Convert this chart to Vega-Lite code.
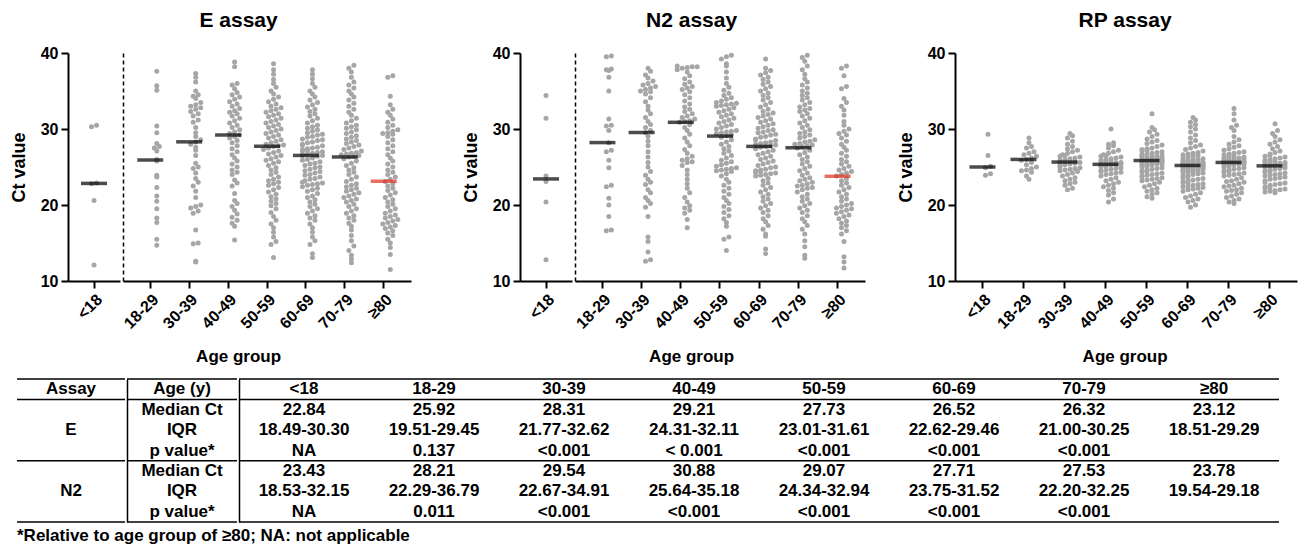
{
"$schema":"https://vega.github.io/schema/vega-lite/v6.json",
"background":"white",
"padding":{"left":10,"top":10,"right":5,"bottom":0},
"datasets":{
"E":[
{"g":"<18","v":30.5},{"g":"<18","v":30.3},{"g":"<18","v":22.9},{"g":"<18","v":22.8},{"g":"<18","v":20.6},{"g":"<18","v":12.1},
{"g":"18-29","v":37.6},{"g":"18-29","v":35.7},{"g":"18-29","v":35.1},{"g":"18-29","v":30.4},{"g":"18-29","v":29.5},{"g":"18-29","v":28.1},{"g":"18-29","v":27.7},{"g":"18-29","v":27.5},{"g":"18-29","v":27.1},{"g":"18-29","v":26.0},{"g":"18-29","v":25.8},{"g":"18-29","v":23.9},{"g":"18-29","v":23.7},{"g":"18-29","v":22.3},{"g":"18-29","v":21.2},{"g":"18-29","v":20.5},{"g":"18-29","v":19.5},{"g":"18-29","v":18.3},{"g":"18-29","v":17.7},{"g":"18-29","v":15.5},{"g":"18-29","v":14.7},
{"g":"30-39","v":37.3},{"g":"30-39","v":36.8},{"g":"30-39","v":36.2},{"g":"30-39","v":35.0},{"g":"30-39","v":34.5},{"g":"30-39","v":34.3},{"g":"30-39","v":34.0},{"g":"30-39","v":33.5},{"g":"30-39","v":33.2},{"g":"30-39","v":33.0},{"g":"30-39","v":32.8},{"g":"30-39","v":32.6},{"g":"30-39","v":32.3},{"g":"30-39","v":32.0},{"g":"30-39","v":31.7},{"g":"30-39","v":31.2},{"g":"30-39","v":30.9},{"g":"30-39","v":30.2},{"g":"30-39","v":29.5},{"g":"30-39","v":29.0},{"g":"30-39","v":28.6},{"g":"30-39","v":28.3},{"g":"30-39","v":28.0},{"g":"30-39","v":27.6},{"g":"30-39","v":27.2},{"g":"30-39","v":26.5},{"g":"30-39","v":25.5},{"g":"30-39","v":25.0},{"g":"30-39","v":24.8},{"g":"30-39","v":24.2},{"g":"30-39","v":23.5},{"g":"30-39","v":23.0},{"g":"30-39","v":22.5},{"g":"30-39","v":21.8},{"g":"30-39","v":21.0},{"g":"30-39","v":20.0},{"g":"30-39","v":19.8},{"g":"30-39","v":19.6},{"g":"30-39","v":19.2},{"g":"30-39","v":18.9},{"g":"30-39","v":16.7},{"g":"30-39","v":15.0},{"g":"30-39","v":14.9},{"g":"30-39","v":12.6},{"g":"30-39","v":12.5},
{"g":"40-49","v":38.8},{"g":"40-49","v":38.2},{"g":"40-49","v":36.0},{"g":"40-49","v":35.8},{"g":"40-49","v":35.3},{"g":"40-49","v":34.8},{"g":"40-49","v":34.5},{"g":"40-49","v":34.2},{"g":"40-49","v":33.9},{"g":"40-49","v":33.6},{"g":"40-49","v":33.3},{"g":"40-49","v":33.0},{"g":"40-49","v":32.7},{"g":"40-49","v":32.4},{"g":"40-49","v":32.2},{"g":"40-49","v":32.0},{"g":"40-49","v":31.7},{"g":"40-49","v":31.4},{"g":"40-49","v":31.1},{"g":"40-49","v":30.8},{"g":"40-49","v":30.5},{"g":"40-49","v":30.2},{"g":"40-49","v":29.9},{"g":"40-49","v":29.6},{"g":"40-49","v":29.4},{"g":"40-49","v":29.2},{"g":"40-49","v":29.0},{"g":"40-49","v":28.8},{"g":"40-49","v":28.5},{"g":"40-49","v":28.2},{"g":"40-49","v":27.8},{"g":"40-49","v":27.4},{"g":"40-49","v":27.0},{"g":"40-49","v":26.6},{"g":"40-49","v":26.2},{"g":"40-49","v":25.8},{"g":"40-49","v":25.4},{"g":"40-49","v":25.0},{"g":"40-49","v":24.6},{"g":"40-49","v":24.3},{"g":"40-49","v":24.0},{"g":"40-49","v":23.3},{"g":"40-49","v":22.9},{"g":"40-49","v":22.5},{"g":"40-49","v":21.5},{"g":"40-49","v":20.6},{"g":"40-49","v":20.2},{"g":"40-49","v":19.8},{"g":"40-49","v":19.3},{"g":"40-49","v":18.8},{"g":"40-49","v":18.4},{"g":"40-49","v":18.0},{"g":"40-49","v":17.6},{"g":"40-49","v":17.2},{"g":"40-49","v":15.4},
{"g":"50-59","v":38.6},{"g":"50-59","v":37.8},{"g":"50-59","v":37.2},{"g":"50-59","v":36.5},{"g":"50-59","v":36.0},{"g":"50-59","v":35.5},{"g":"50-59","v":35.0},{"g":"50-59","v":34.6},{"g":"50-59","v":34.2},{"g":"50-59","v":33.9},{"g":"50-59","v":33.6},{"g":"50-59","v":33.3},{"g":"50-59","v":33.0},{"g":"50-59","v":32.8},{"g":"50-59","v":32.6},{"g":"50-59","v":32.4},{"g":"50-59","v":32.2},{"g":"50-59","v":32.0},{"g":"50-59","v":31.8},{"g":"50-59","v":31.6},{"g":"50-59","v":31.4},{"g":"50-59","v":31.2},{"g":"50-59","v":31.0},{"g":"50-59","v":30.8},{"g":"50-59","v":30.6},{"g":"50-59","v":30.4},{"g":"50-59","v":30.2},{"g":"50-59","v":30.0},{"g":"50-59","v":29.8},{"g":"50-59","v":29.6},{"g":"50-59","v":29.4},{"g":"50-59","v":29.2},{"g":"50-59","v":29.0},{"g":"50-59","v":28.8},{"g":"50-59","v":28.6},{"g":"50-59","v":28.4},{"g":"50-59","v":28.2},{"g":"50-59","v":28.0},{"g":"50-59","v":27.9},{"g":"50-59","v":27.8},{"g":"50-59","v":27.7},{"g":"50-59","v":27.5},{"g":"50-59","v":27.3},{"g":"50-59","v":27.1},{"g":"50-59","v":26.9},{"g":"50-59","v":26.7},{"g":"50-59","v":26.5},{"g":"50-59","v":26.3},{"g":"50-59","v":26.1},{"g":"50-59","v":25.9},{"g":"50-59","v":25.7},{"g":"50-59","v":25.5},{"g":"50-59","v":25.2},{"g":"50-59","v":24.9},{"g":"50-59","v":24.6},{"g":"50-59","v":24.3},{"g":"50-59","v":24.0},{"g":"50-59","v":23.7},{"g":"50-59","v":23.4},{"g":"50-59","v":23.2},{"g":"50-59","v":23.0},{"g":"50-59","v":22.8},{"g":"50-59","v":22.6},{"g":"50-59","v":22.3},{"g":"50-59","v":22.0},{"g":"50-59","v":21.7},{"g":"50-59","v":21.4},{"g":"50-59","v":21.1},{"g":"50-59","v":20.8},{"g":"50-59","v":20.5},{"g":"50-59","v":20.2},{"g":"50-59","v":19.9},{"g":"50-59","v":19.5},{"g":"50-59","v":19.0},{"g":"50-59","v":18.5},{"g":"50-59","v":18.0},{"g":"50-59","v":17.5},{"g":"50-59","v":17.0},{"g":"50-59","v":16.4},{"g":"50-59","v":15.8},{"g":"50-59","v":15.2},{"g":"50-59","v":14.8},{"g":"50-59","v":13.1},
{"g":"60-69","v":37.8},{"g":"60-69","v":37.2},{"g":"60-69","v":36.6},{"g":"60-69","v":36.0},{"g":"60-69","v":35.5},{"g":"60-69","v":35.0},{"g":"60-69","v":34.6},{"g":"60-69","v":34.2},{"g":"60-69","v":33.8},{"g":"60-69","v":33.5},{"g":"60-69","v":33.2},{"g":"60-69","v":32.9},{"g":"60-69","v":32.6},{"g":"60-69","v":32.3},{"g":"60-69","v":32.0},{"g":"60-69","v":31.7},{"g":"60-69","v":31.4},{"g":"60-69","v":31.1},{"g":"60-69","v":30.8},{"g":"60-69","v":30.5},{"g":"60-69","v":30.3},{"g":"60-69","v":30.1},{"g":"60-69","v":29.9},{"g":"60-69","v":29.7},{"g":"60-69","v":29.5},
{"g":"60-69","v":29.3},{"g":"60-69","v":29.2},{"g":"60-69","v":29.0},{"g":"60-69","v":28.9},{"g":"60-69","v":28.7},{"g":"60-69","v":28.6},{"g":"60-69","v":28.5},{"g":"60-69","v":28.3},{"g":"60-69","v":28.2},{"g":"60-69","v":28.0},{"g":"60-69","v":27.9},{"g":"60-69","v":27.8},{"g":"60-69","v":27.6},{"g":"60-69","v":27.5},{"g":"60-69","v":27.4},{"g":"60-69","v":27.3},{"g":"60-69","v":27.2},{"g":"60-69","v":27.1},{"g":"60-69","v":27.0},{"g":"60-69","v":26.9},{"g":"60-69","v":26.8},{"g":"60-69","v":26.7},{"g":"60-69","v":26.6},{"g":"60-69","v":26.5},{"g":"60-69","v":26.5},
{"g":"60-69","v":26.4},{"g":"60-69","v":26.2},{"g":"60-69","v":26.0},{"g":"60-69","v":25.9},{"g":"60-69","v":25.7},{"g":"60-69","v":25.5},{"g":"60-69","v":25.4},{"g":"60-69","v":25.2},{"g":"60-69","v":25.0},{"g":"60-69","v":24.9},{"g":"60-69","v":24.7},{"g":"60-69","v":24.5},{"g":"60-69","v":24.4},{"g":"60-69","v":24.2},{"g":"60-69","v":24.0},{"g":"60-69","v":23.9},{"g":"60-69","v":23.7},{"g":"60-69","v":23.5},{"g":"60-69","v":23.4},{"g":"60-69","v":23.2},{"g":"60-69","v":23.0},{"g":"60-69","v":22.9},{"g":"60-69","v":22.8},{"g":"60-69","v":22.7},{"g":"60-69","v":22.6},
{"g":"60-69","v":22.4},{"g":"60-69","v":22.2},{"g":"60-69","v":22.0},{"g":"60-69","v":21.8},{"g":"60-69","v":21.5},{"g":"60-69","v":21.2},{"g":"60-69","v":21.0},{"g":"60-69","v":20.7},{"g":"60-69","v":20.4},{"g":"60-69","v":20.1},{"g":"60-69","v":19.8},{"g":"60-69","v":19.5},{"g":"60-69","v":19.2},{"g":"60-69","v":18.9},{"g":"60-69","v":18.6},{"g":"60-69","v":18.3},{"g":"60-69","v":18.0},{"g":"60-69","v":17.5},{"g":"60-69","v":17.0},{"g":"60-69","v":16.4},{"g":"60-69","v":15.8},{"g":"60-69","v":15.3},{"g":"60-69","v":14.8},{"g":"60-69","v":13.6},{"g":"60-69","v":13.1},
{"g":"70-79","v":38.4},{"g":"70-79","v":38.0},{"g":"70-79","v":37.5},{"g":"70-79","v":36.8},{"g":"70-79","v":36.2},{"g":"70-79","v":35.8},{"g":"70-79","v":35.4},{"g":"70-79","v":35.0},{"g":"70-79","v":34.6},{"g":"70-79","v":34.2},{"g":"70-79","v":33.8},{"g":"70-79","v":33.4},{"g":"70-79","v":33.0},{"g":"70-79","v":32.6},{"g":"70-79","v":32.2},{"g":"70-79","v":31.8},{"g":"70-79","v":31.4},{"g":"70-79","v":31.1},{"g":"70-79","v":30.8},{"g":"70-79","v":30.5},{"g":"70-79","v":30.3},
{"g":"70-79","v":30.1},{"g":"70-79","v":29.9},{"g":"70-79","v":29.6},{"g":"70-79","v":29.4},{"g":"70-79","v":29.1},{"g":"70-79","v":28.9},{"g":"70-79","v":28.7},{"g":"70-79","v":28.5},{"g":"70-79","v":28.3},{"g":"70-79","v":28.1},{"g":"70-79","v":27.9},{"g":"70-79","v":27.7},{"g":"70-79","v":27.5},{"g":"70-79","v":27.3},{"g":"70-79","v":27.1},{"g":"70-79","v":26.9},{"g":"70-79","v":26.8},{"g":"70-79","v":26.7},{"g":"70-79","v":26.6},{"g":"70-79","v":26.5},{"g":"70-79","v":26.4},{"g":"70-79","v":26.3},
{"g":"70-79","v":26.1},{"g":"70-79","v":25.8},{"g":"70-79","v":25.5},{"g":"70-79","v":25.2},{"g":"70-79","v":24.9},{"g":"70-79","v":24.6},{"g":"70-79","v":24.3},{"g":"70-79","v":24.0},{"g":"70-79","v":23.7},{"g":"70-79","v":23.4},{"g":"70-79","v":23.1},{"g":"70-79","v":22.8},{"g":"70-79","v":22.6},{"g":"70-79","v":22.4},{"g":"70-79","v":22.2},{"g":"70-79","v":22.0},{"g":"70-79","v":21.8},{"g":"70-79","v":21.6},{"g":"70-79","v":21.4},{"g":"70-79","v":21.2},{"g":"70-79","v":21.0},
{"g":"70-79","v":20.8},{"g":"70-79","v":20.6},{"g":"70-79","v":20.4},{"g":"70-79","v":20.1},{"g":"70-79","v":19.8},{"g":"70-79","v":19.5},{"g":"70-79","v":19.2},{"g":"70-79","v":18.9},{"g":"70-79","v":18.6},{"g":"70-79","v":18.3},{"g":"70-79","v":18.0},{"g":"70-79","v":17.6},{"g":"70-79","v":17.2},{"g":"70-79","v":16.7},{"g":"70-79","v":16.0},{"g":"70-79","v":15.3},{"g":"70-79","v":14.6},{"g":"70-79","v":14.0},{"g":"70-79","v":13.4},{"g":"70-79","v":12.9},{"g":"70-79","v":12.4},
{"g":"≥80","v":37.0},{"g":"≥80","v":36.8},{"g":"≥80","v":34.3},{"g":"≥80","v":33.2},{"g":"≥80","v":32.6},{"g":"≥80","v":32.2},{"g":"≥80","v":31.8},{"g":"≥80","v":31.3},{"g":"≥80","v":30.9},{"g":"≥80","v":30.5},{"g":"≥80","v":30.2},{"g":"≥80","v":29.9},{"g":"≥80","v":29.7},{"g":"≥80","v":29.5},{"g":"≥80","v":29.4},{"g":"≥80","v":29.3},
{"g":"≥80","v":29.0},{"g":"≥80","v":28.6},{"g":"≥80","v":28.2},{"g":"≥80","v":27.8},{"g":"≥80","v":27.4},{"g":"≥80","v":27.0},{"g":"≥80","v":26.6},{"g":"≥80","v":26.2},{"g":"≥80","v":25.8},{"g":"≥80","v":25.4},{"g":"≥80","v":25.0},{"g":"≥80","v":24.6},{"g":"≥80","v":24.3},{"g":"≥80","v":24.0},{"g":"≥80","v":23.7},{"g":"≥80","v":23.4},{"g":"≥80","v":23.1},
{"g":"≥80","v":22.8},{"g":"≥80","v":22.5},{"g":"≥80","v":22.2},{"g":"≥80","v":21.9},{"g":"≥80","v":21.6},{"g":"≥80","v":21.3},{"g":"≥80","v":21.0},{"g":"≥80","v":20.7},{"g":"≥80","v":20.4},{"g":"≥80","v":20.1},{"g":"≥80","v":19.8},{"g":"≥80","v":19.5},{"g":"≥80","v":19.2},{"g":"≥80","v":18.9},{"g":"≥80","v":18.7},{"g":"≥80","v":18.5},
{"g":"≥80","v":18.3},{"g":"≥80","v":18.1},{"g":"≥80","v":17.9},{"g":"≥80","v":17.7},{"g":"≥80","v":17.5},{"g":"≥80","v":17.3},{"g":"≥80","v":17.1},{"g":"≥80","v":16.9},{"g":"≥80","v":16.6},{"g":"≥80","v":16.3},{"g":"≥80","v":16.0},{"g":"≥80","v":15.5},{"g":"≥80","v":15.0},{"g":"≥80","v":14.4},{"g":"≥80","v":13.5},{"g":"≥80","v":11.5}
],
"N":[
{"g":"<18","v":34.4},{"g":"<18","v":31.4},{"g":"<18","v":23.8},{"g":"<18","v":23.1},{"g":"<18","v":20.4},{"g":"<18","v":12.8},
{"g":"18-29","v":39.6},{"g":"18-29","v":39.5},{"g":"18-29","v":37.9},{"g":"18-29","v":37.8},{"g":"18-29","v":37.7},{"g":"18-29","v":36.8},{"g":"18-29","v":35.0},{"g":"18-29","v":31.3},{"g":"18-29","v":30.5},{"g":"18-29","v":30.4},{"g":"18-29","v":29.8},{"g":"18-29","v":28.2},{"g":"18-29","v":27.2},{"g":"18-29","v":27.0},{"g":"18-29","v":25.9},{"g":"18-29","v":24.9},{"g":"18-29","v":22.6},{"g":"18-29","v":22.4},{"g":"18-29","v":20.9},{"g":"18-29","v":20.0},{"g":"18-29","v":18.5},{"g":"18-29","v":16.7},{"g":"18-29","v":16.6},
{"g":"30-39","v":38.0},{"g":"30-39","v":37.6},{"g":"30-39","v":37.1},{"g":"30-39","v":36.7},{"g":"30-39","v":36.3},{"g":"30-39","v":36.0},{"g":"30-39","v":35.8},{"g":"30-39","v":35.6},{"g":"30-39","v":35.4},{"g":"30-39","v":35.2},{"g":"30-39","v":35.0},{"g":"30-39","v":34.9},
{"g":"30-39","v":34.6},{"g":"30-39","v":34.1},{"g":"30-39","v":33.6},{"g":"30-39","v":33.0},{"g":"30-39","v":32.5},{"g":"30-39","v":32.0},{"g":"30-39","v":31.5},{"g":"30-39","v":31.0},{"g":"30-39","v":30.6},{"g":"30-39","v":30.2},{"g":"30-39","v":29.8},{"g":"30-39","v":29.5},
{"g":"30-39","v":29.0},{"g":"30-39","v":28.4},{"g":"30-39","v":27.8},{"g":"30-39","v":27.0},{"g":"30-39","v":26.3},{"g":"30-39","v":25.6},{"g":"30-39","v":25.0},{"g":"30-39","v":24.4},{"g":"30-39","v":23.9},{"g":"30-39","v":23.4},{"g":"30-39","v":23.0},{"g":"30-39","v":22.7},
{"g":"30-39","v":22.0},{"g":"30-39","v":21.6},{"g":"30-39","v":21.0},{"g":"30-39","v":20.6},{"g":"30-39","v":20.2},{"g":"30-39","v":19.7},{"g":"30-39","v":18.5},{"g":"30-39","v":15.8},{"g":"30-39","v":15.2},{"g":"30-39","v":13.8},{"g":"30-39","v":12.8},{"g":"30-39","v":12.6},
{"g":"40-49","v":38.3},{"g":"40-49","v":38.2},{"g":"40-49","v":38.2},{"g":"40-49","v":38.1},{"g":"40-49","v":38.0},{"g":"40-49","v":37.8},{"g":"40-49","v":37.5},{"g":"40-49","v":37.0},{"g":"40-49","v":36.6},{"g":"40-49","v":36.2},{"g":"40-49","v":35.9},{"g":"40-49","v":35.6},{"g":"40-49","v":35.4},{"g":"40-49","v":35.2},
{"g":"40-49","v":34.9},{"g":"40-49","v":34.5},{"g":"40-49","v":34.1},{"g":"40-49","v":33.7},{"g":"40-49","v":33.3},{"g":"40-49","v":32.9},{"g":"40-49","v":32.6},{"g":"40-49","v":32.3},{"g":"40-49","v":32.0},{"g":"40-49","v":31.7},{"g":"40-49","v":31.5},{"g":"40-49","v":31.3},{"g":"40-49","v":31.1},{"g":"40-49","v":31.0},{"g":"40-49","v":30.9},
{"g":"40-49","v":30.6},{"g":"40-49","v":30.2},{"g":"40-49","v":29.8},{"g":"40-49","v":29.3},{"g":"40-49","v":28.8},{"g":"40-49","v":28.3},{"g":"40-49","v":27.8},{"g":"40-49","v":27.3},{"g":"40-49","v":26.8},{"g":"40-49","v":26.4},{"g":"40-49","v":26.1},{"g":"40-49","v":25.9},{"g":"40-49","v":25.7},{"g":"40-49","v":25.6},
{"g":"40-49","v":25.2},{"g":"40-49","v":24.6},{"g":"40-49","v":24.0},{"g":"40-49","v":23.4},{"g":"40-49","v":22.8},{"g":"40-49","v":22.2},{"g":"40-49","v":21.6},{"g":"40-49","v":21.0},{"g":"40-49","v":20.4},{"g":"40-49","v":19.9},{"g":"40-49","v":19.6},{"g":"40-49","v":19.3},{"g":"40-49","v":18.9},{"g":"40-49","v":18.1},{"g":"40-49","v":17.0},
{"g":"50-59","v":39.7},{"g":"50-59","v":39.5},{"g":"50-59","v":39.2},{"g":"50-59","v":38.6},{"g":"50-59","v":38.3},{"g":"50-59","v":37.5},{"g":"50-59","v":36.7},{"g":"50-59","v":36.0},{"g":"50-59","v":35.5},{"g":"50-59","v":35.1},{"g":"50-59","v":34.7},{"g":"50-59","v":34.4},{"g":"50-59","v":34.1},{"g":"50-59","v":33.9},{"g":"50-59","v":33.7},{"g":"50-59","v":33.5},{"g":"50-59","v":33.4},{"g":"50-59","v":33.3},{"g":"50-59","v":33.2},{"g":"50-59","v":33.1},{"g":"50-59","v":33.0},
{"g":"50-59","v":32.8},{"g":"50-59","v":32.6},{"g":"50-59","v":32.4},{"g":"50-59","v":32.2},{"g":"50-59","v":32.0},{"g":"50-59","v":31.8},{"g":"50-59","v":31.6},{"g":"50-59","v":31.4},{"g":"50-59","v":31.2},{"g":"50-59","v":31.0},{"g":"50-59","v":30.8},{"g":"50-59","v":30.6},{"g":"50-59","v":30.4},{"g":"50-59","v":30.2},{"g":"50-59","v":30.0},{"g":"50-59","v":29.8},{"g":"50-59","v":29.7},{"g":"50-59","v":29.6},{"g":"50-59","v":29.5},{"g":"50-59","v":29.4},{"g":"50-59","v":29.2},{"g":"50-59","v":29.1},
{"g":"50-59","v":28.9},{"g":"50-59","v":28.6},{"g":"50-59","v":28.3},{"g":"50-59","v":28.0},{"g":"50-59","v":27.7},{"g":"50-59","v":27.4},{"g":"50-59","v":27.1},{"g":"50-59","v":26.8},{"g":"50-59","v":26.5},{"g":"50-59","v":26.2},{"g":"50-59","v":25.9},{"g":"50-59","v":25.7},{"g":"50-59","v":25.5},{"g":"50-59","v":25.3},{"g":"50-59","v":25.1},{"g":"50-59","v":24.9},{"g":"50-59","v":24.8},{"g":"50-59","v":24.7},{"g":"50-59","v":24.6},{"g":"50-59","v":24.5},{"g":"50-59","v":24.4},
{"g":"50-59","v":24.1},{"g":"50-59","v":23.8},{"g":"50-59","v":23.4},{"g":"50-59","v":23.0},{"g":"50-59","v":22.6},{"g":"50-59","v":22.2},{"g":"50-59","v":21.8},{"g":"50-59","v":21.4},{"g":"50-59","v":21.0},{"g":"50-59","v":20.6},{"g":"50-59","v":20.2},{"g":"50-59","v":19.8},{"g":"50-59","v":19.4},{"g":"50-59","v":19.0},{"g":"50-59","v":18.6},{"g":"50-59","v":18.2},{"g":"50-59","v":17.7},{"g":"50-59","v":17.2},{"g":"50-59","v":15.8},{"g":"50-59","v":15.5},{"g":"50-59","v":14.0},
{"g":"60-69","v":39.2},{"g":"60-69","v":38.0},{"g":"60-69","v":37.7},{"g":"60-69","v":37.4},{"g":"60-69","v":37.1},{"g":"60-69","v":36.8},{"g":"60-69","v":36.5},{"g":"60-69","v":36.2},{"g":"60-69","v":35.9},{"g":"60-69","v":35.6},{"g":"60-69","v":35.3},{"g":"60-69","v":35.0},{"g":"60-69","v":34.7},{"g":"60-69","v":34.4},{"g":"60-69","v":34.1},{"g":"60-69","v":33.8},{"g":"60-69","v":33.5},{"g":"60-69","v":33.2},{"g":"60-69","v":32.9},{"g":"60-69","v":32.6},{"g":"60-69","v":32.3},{"g":"60-69","v":32.1},{"g":"60-69","v":31.9},{"g":"60-69","v":31.7},{"g":"60-69","v":31.5},
{"g":"60-69","v":31.3},{"g":"60-69","v":31.1},{"g":"60-69","v":30.9},{"g":"60-69","v":30.7},{"g":"60-69","v":30.5},{"g":"60-69","v":30.3},{"g":"60-69","v":30.1},{"g":"60-69","v":29.9},{"g":"60-69","v":29.8},{"g":"60-69","v":29.6},{"g":"60-69","v":29.5},{"g":"60-69","v":29.3},{"g":"60-69","v":29.2},{"g":"60-69","v":29.0},{"g":"60-69","v":28.9},{"g":"60-69","v":28.7},{"g":"60-69","v":28.6},{"g":"60-69","v":28.5},{"g":"60-69","v":28.3},{"g":"60-69","v":28.2},{"g":"60-69","v":28.1},{"g":"60-69","v":28.0},{"g":"60-69","v":27.9},{"g":"60-69","v":27.8},{"g":"60-69","v":27.7},
{"g":"60-69","v":27.6},{"g":"60-69","v":27.4},{"g":"60-69","v":27.2},{"g":"60-69","v":27.0},{"g":"60-69","v":26.8},{"g":"60-69","v":26.6},{"g":"60-69","v":26.4},{"g":"60-69","v":26.2},{"g":"60-69","v":26.0},{"g":"60-69","v":25.8},{"g":"60-69","v":25.6},{"g":"60-69","v":25.4},{"g":"60-69","v":25.2},{"g":"60-69","v":25.0},{"g":"60-69","v":24.9},{"g":"60-69","v":24.7},{"g":"60-69","v":24.6},{"g":"60-69","v":24.5},{"g":"60-69","v":24.4},{"g":"60-69","v":24.3},{"g":"60-69","v":24.2},{"g":"60-69","v":24.1},{"g":"60-69","v":24.0},{"g":"60-69","v":23.9},{"g":"60-69","v":23.8},
{"g":"60-69","v":23.5},{"g":"60-69","v":23.2},{"g":"60-69","v":22.9},{"g":"60-69","v":22.6},{"g":"60-69","v":22.3},{"g":"60-69","v":22.0},{"g":"60-69","v":21.7},{"g":"60-69","v":21.4},{"g":"60-69","v":21.1},{"g":"60-69","v":20.8},{"g":"60-69","v":20.5},{"g":"60-69","v":20.2},{"g":"60-69","v":19.9},{"g":"60-69","v":19.6},{"g":"60-69","v":19.3},{"g":"60-69","v":19.0},{"g":"60-69","v":18.6},{"g":"60-69","v":18.2},{"g":"60-69","v":17.8},{"g":"60-69","v":17.3},{"g":"60-69","v":16.8},{"g":"60-69","v":16.2},{"g":"60-69","v":15.9},{"g":"60-69","v":14.2},{"g":"60-69","v":13.6},
{"g":"70-79","v":39.7},{"g":"70-79","v":39.4},{"g":"70-79","v":38.9},{"g":"70-79","v":38.3},{"g":"70-79","v":37.8},{"g":"70-79","v":37.2},{"g":"70-79","v":36.6},{"g":"70-79","v":36.2},{"g":"70-79","v":35.8},{"g":"70-79","v":35.4},{"g":"70-79","v":35.0},{"g":"70-79","v":34.7},{"g":"70-79","v":34.4},{"g":"70-79","v":34.1},{"g":"70-79","v":33.8},{"g":"70-79","v":33.5},{"g":"70-79","v":33.2},{"g":"70-79","v":32.9},{"g":"70-79","v":32.7},{"g":"70-79","v":32.5},{"g":"70-79","v":32.3},
{"g":"70-79","v":32.0},{"g":"70-79","v":31.7},{"g":"70-79","v":31.4},{"g":"70-79","v":31.1},{"g":"70-79","v":30.8},{"g":"70-79","v":30.5},{"g":"70-79","v":30.2},{"g":"70-79","v":29.9},{"g":"70-79","v":29.6},{"g":"70-79","v":29.4},{"g":"70-79","v":29.2},{"g":"70-79","v":29.0},{"g":"70-79","v":28.8},{"g":"70-79","v":28.6},{"g":"70-79","v":28.4},{"g":"70-79","v":28.3},{"g":"70-79","v":28.1},{"g":"70-79","v":28.0},{"g":"70-79","v":27.9},{"g":"70-79","v":27.8},{"g":"70-79","v":27.7},{"g":"70-79","v":27.5},
{"g":"70-79","v":27.2},{"g":"70-79","v":26.9},{"g":"70-79","v":26.6},{"g":"70-79","v":26.3},{"g":"70-79","v":26.0},{"g":"70-79","v":25.7},{"g":"70-79","v":25.4},{"g":"70-79","v":25.1},{"g":"70-79","v":24.8},{"g":"70-79","v":24.5},{"g":"70-79","v":24.2},{"g":"70-79","v":23.9},{"g":"70-79","v":23.6},{"g":"70-79","v":23.4},{"g":"70-79","v":23.2},{"g":"70-79","v":23.0},{"g":"70-79","v":22.8},{"g":"70-79","v":22.6},{"g":"70-79","v":22.5},{"g":"70-79","v":22.3},{"g":"70-79","v":22.2},
{"g":"70-79","v":22.0},{"g":"70-79","v":21.7},{"g":"70-79","v":21.4},{"g":"70-79","v":21.1},{"g":"70-79","v":20.8},{"g":"70-79","v":20.5},{"g":"70-79","v":20.2},{"g":"70-79","v":19.9},{"g":"70-79","v":19.6},{"g":"70-79","v":19.3},{"g":"70-79","v":19.0},{"g":"70-79","v":18.6},{"g":"70-79","v":18.2},{"g":"70-79","v":17.8},{"g":"70-79","v":17.3},{"g":"70-79","v":16.8},{"g":"70-79","v":16.2},{"g":"70-79","v":15.3},{"g":"70-79","v":14.5},{"g":"70-79","v":13.4},{"g":"70-79","v":13.0},
{"g":"≥80","v":38.3},{"g":"≥80","v":38.0},{"g":"≥80","v":37.0},{"g":"≥80","v":35.6},{"g":"≥80","v":35.3},{"g":"≥80","v":34.0},{"g":"≥80","v":33.5},{"g":"≥80","v":33.0},{"g":"≥80","v":32.5},{"g":"≥80","v":31.8},{"g":"≥80","v":31.0},{"g":"≥80","v":30.5},{"g":"≥80","v":30.0},{"g":"≥80","v":29.7},{"g":"≥80","v":29.4},{"g":"≥80","v":29.2},
{"g":"≥80","v":28.8},{"g":"≥80","v":28.4},{"g":"≥80","v":28.0},{"g":"≥80","v":27.6},{"g":"≥80","v":27.2},{"g":"≥80","v":26.8},{"g":"≥80","v":26.4},{"g":"≥80","v":26.0},{"g":"≥80","v":25.7},{"g":"≥80","v":25.4},{"g":"≥80","v":25.1},{"g":"≥80","v":24.8},{"g":"≥80","v":24.6},{"g":"≥80","v":24.4},{"g":"≥80","v":24.2},{"g":"≥80","v":24.0},{"g":"≥80","v":23.8},
{"g":"≥80","v":23.5},{"g":"≥80","v":23.2},{"g":"≥80","v":22.9},{"g":"≥80","v":22.6},{"g":"≥80","v":22.3},{"g":"≥80","v":22.0},{"g":"≥80","v":21.7},{"g":"≥80","v":21.4},{"g":"≥80","v":21.1},{"g":"≥80","v":20.8},{"g":"≥80","v":20.5},{"g":"≥80","v":20.2},{"g":"≥80","v":20.0},{"g":"≥80","v":19.8},{"g":"≥80","v":19.6},{"g":"≥80","v":19.5},
{"g":"≥80","v":19.3},{"g":"≥80","v":19.1},{"g":"≥80","v":18.9},{"g":"≥80","v":18.7},{"g":"≥80","v":18.5},{"g":"≥80","v":18.2},{"g":"≥80","v":17.9},{"g":"≥80","v":17.6},{"g":"≥80","v":17.3},{"g":"≥80","v":17.0},{"g":"≥80","v":16.6},{"g":"≥80","v":16.2},{"g":"≥80","v":15.2},{"g":"≥80","v":13.2},{"g":"≥80","v":12.5},{"g":"≥80","v":11.7}
],
"R":[
{"g":"<18","v":29.3},{"g":"<18","v":26.5},{"g":"<18","v":25.1},{"g":"<18","v":24.9},{"g":"<18","v":24.1},{"g":"<18","v":23.9},
{"g":"18-29","v":28.8},{"g":"18-29","v":28.2},{"g":"18-29","v":27.7},{"g":"18-29","v":27.5},{"g":"18-29","v":27.0},{"g":"18-29","v":26.8},{"g":"18-29","v":26.6},{"g":"18-29","v":26.4},{"g":"18-29","v":26.2},{"g":"18-29","v":26.0},{"g":"18-29","v":25.9},{"g":"18-29","v":25.6},{"g":"18-29","v":25.3},{"g":"18-29","v":25.0},{"g":"18-29","v":24.8},{"g":"18-29","v":24.6},{"g":"18-29","v":24.5},{"g":"18-29","v":24.3},{"g":"18-29","v":23.8},{"g":"18-29","v":23.4},
{"g":"30-39","v":29.4},{"g":"30-39","v":29.1},{"g":"30-39","v":28.8},{"g":"30-39","v":28.4},{"g":"30-39","v":28.0},{"g":"30-39","v":27.7},{"g":"30-39","v":27.4},{"g":"30-39","v":27.2},{"g":"30-39","v":27.0},{"g":"30-39","v":26.8},{"g":"30-39","v":26.6},
{"g":"30-39","v":26.5},{"g":"30-39","v":26.4},{"g":"30-39","v":26.3},{"g":"30-39","v":26.2},{"g":"30-39","v":26.1},{"g":"30-39","v":26.0},{"g":"30-39","v":25.9},{"g":"30-39","v":25.8},{"g":"30-39","v":25.7},{"g":"30-39","v":25.7},{"g":"30-39","v":25.6},{"g":"30-39","v":25.6},
{"g":"30-39","v":25.5},{"g":"30-39","v":25.4},{"g":"30-39","v":25.3},{"g":"30-39","v":25.2},{"g":"30-39","v":25.0},{"g":"30-39","v":24.9},{"g":"30-39","v":24.8},{"g":"30-39","v":24.7},{"g":"30-39","v":24.6},{"g":"30-39","v":24.5},{"g":"30-39","v":24.4},
{"g":"30-39","v":24.2},{"g":"30-39","v":24.0},{"g":"30-39","v":23.8},{"g":"30-39","v":23.6},{"g":"30-39","v":23.4},{"g":"30-39","v":23.2},{"g":"30-39","v":23.0},{"g":"30-39","v":22.8},{"g":"30-39","v":22.6},{"g":"30-39","v":22.2},{"g":"30-39","v":22.0},
{"g":"40-49","v":30.0},{"g":"40-49","v":28.2},{"g":"40-49","v":28.0},{"g":"40-49","v":27.8},{"g":"40-49","v":27.5},{"g":"40-49","v":27.2},{"g":"40-49","v":27.0},{"g":"40-49","v":26.8},{"g":"40-49","v":26.6},{"g":"40-49","v":26.5},{"g":"40-49","v":26.4},{"g":"40-49","v":26.3},{"g":"40-49","v":26.2},{"g":"40-49","v":26.1},
{"g":"40-49","v":26.0},{"g":"40-49","v":25.9},{"g":"40-49","v":25.8},{"g":"40-49","v":25.8},{"g":"40-49","v":25.7},{"g":"40-49","v":25.6},{"g":"40-49","v":25.6},{"g":"40-49","v":25.5},{"g":"40-49","v":25.5},{"g":"40-49","v":25.4},{"g":"40-49","v":25.4},{"g":"40-49","v":25.3},{"g":"40-49","v":25.3},{"g":"40-49","v":25.3},
{"g":"40-49","v":25.2},{"g":"40-49","v":25.1},{"g":"40-49","v":25.0},{"g":"40-49","v":24.9},{"g":"40-49","v":24.8},{"g":"40-49","v":24.7},{"g":"40-49","v":24.6},{"g":"40-49","v":24.5},{"g":"40-49","v":24.4},{"g":"40-49","v":24.3},{"g":"40-49","v":24.2},{"g":"40-49","v":24.1},{"g":"40-49","v":24.0},{"g":"40-49","v":23.8},
{"g":"40-49","v":23.6},{"g":"40-49","v":23.4},{"g":"40-49","v":23.2},{"g":"40-49","v":23.0},{"g":"40-49","v":22.8},{"g":"40-49","v":22.6},{"g":"40-49","v":22.4},{"g":"40-49","v":22.2},{"g":"40-49","v":21.9},{"g":"40-49","v":21.6},{"g":"40-49","v":21.3},{"g":"40-49","v":20.8},{"g":"40-49","v":20.4},
{"g":"50-59","v":32.0},{"g":"50-59","v":30.2},{"g":"50-59","v":29.9},{"g":"50-59","v":29.6},{"g":"50-59","v":29.3},{"g":"50-59","v":29.0},{"g":"50-59","v":28.7},{"g":"50-59","v":28.5},{"g":"50-59","v":28.3},{"g":"50-59","v":28.1},{"g":"50-59","v":27.9},{"g":"50-59","v":27.7},{"g":"50-59","v":27.5},{"g":"50-59","v":27.4},{"g":"50-59","v":27.3},{"g":"50-59","v":27.2},{"g":"50-59","v":27.1},{"g":"50-59","v":27.0},{"g":"50-59","v":26.9},{"g":"50-59","v":26.8},{"g":"50-59","v":26.7},
{"g":"50-59","v":26.6},{"g":"50-59","v":26.5},{"g":"50-59","v":26.5},{"g":"50-59","v":26.4},{"g":"50-59","v":26.4},{"g":"50-59","v":26.3},{"g":"50-59","v":26.3},{"g":"50-59","v":26.2},{"g":"50-59","v":26.2},{"g":"50-59","v":26.1},{"g":"50-59","v":26.1},{"g":"50-59","v":26.0},{"g":"50-59","v":26.0},{"g":"50-59","v":26.0},{"g":"50-59","v":25.9},{"g":"50-59","v":25.9},{"g":"50-59","v":25.9},{"g":"50-59","v":25.8},{"g":"50-59","v":25.8},{"g":"50-59","v":25.8},{"g":"50-59","v":25.8},{"g":"50-59","v":25.8},
{"g":"50-59","v":25.7},{"g":"50-59","v":25.7},{"g":"50-59","v":25.6},{"g":"50-59","v":25.6},{"g":"50-59","v":25.5},{"g":"50-59","v":25.5},{"g":"50-59","v":25.4},{"g":"50-59","v":25.4},{"g":"50-59","v":25.3},{"g":"50-59","v":25.3},{"g":"50-59","v":25.2},{"g":"50-59","v":25.1},{"g":"50-59","v":25.0},{"g":"50-59","v":24.9},{"g":"50-59","v":24.8},{"g":"50-59","v":24.7},{"g":"50-59","v":24.6},{"g":"50-59","v":24.5},{"g":"50-59","v":24.4},{"g":"50-59","v":24.3},{"g":"50-59","v":24.2},
{"g":"50-59","v":24.1},{"g":"50-59","v":24.0},{"g":"50-59","v":23.9},{"g":"50-59","v":23.8},{"g":"50-59","v":23.7},{"g":"50-59","v":23.6},{"g":"50-59","v":23.5},{"g":"50-59","v":23.4},{"g":"50-59","v":23.3},{"g":"50-59","v":23.2},{"g":"50-59","v":23.0},{"g":"50-59","v":22.8},{"g":"50-59","v":22.6},{"g":"50-59","v":22.4},{"g":"50-59","v":22.2},{"g":"50-59","v":22.0},{"g":"50-59","v":21.8},{"g":"50-59","v":21.6},{"g":"50-59","v":21.4},{"g":"50-59","v":21.1},{"g":"50-59","v":20.9},
{"g":"60-69","v":31.5},{"g":"60-69","v":31.2},{"g":"60-69","v":30.9},{"g":"60-69","v":30.6},{"g":"60-69","v":30.3},{"g":"60-69","v":30.0},{"g":"60-69","v":29.6},{"g":"60-69","v":29.2},{"g":"60-69","v":28.8},{"g":"60-69","v":28.5},{"g":"60-69","v":28.2},{"g":"60-69","v":27.9},{"g":"60-69","v":27.7},{"g":"60-69","v":27.5},{"g":"60-69","v":27.3},{"g":"60-69","v":27.1},{"g":"60-69","v":26.9},{"g":"60-69","v":26.8},{"g":"60-69","v":26.7},{"g":"60-69","v":26.6},{"g":"60-69","v":26.5},{"g":"60-69","v":26.4},{"g":"60-69","v":26.3},{"g":"60-69","v":26.2},{"g":"60-69","v":26.1},
{"g":"60-69","v":26.0},{"g":"60-69","v":26.0},{"g":"60-69","v":25.9},{"g":"60-69","v":25.9},{"g":"60-69","v":25.8},{"g":"60-69","v":25.8},{"g":"60-69","v":25.7},{"g":"60-69","v":25.7},{"g":"60-69","v":25.6},{"g":"60-69","v":25.6},{"g":"60-69","v":25.5},{"g":"60-69","v":25.5},{"g":"60-69","v":25.5},{"g":"60-69","v":25.4},{"g":"60-69","v":25.4},{"g":"60-69","v":25.4},{"g":"60-69","v":25.3},{"g":"60-69","v":25.3},{"g":"60-69","v":25.3},{"g":"60-69","v":25.2},{"g":"60-69","v":25.2},{"g":"60-69","v":25.2},{"g":"60-69","v":25.2},{"g":"60-69","v":25.1},{"g":"60-69","v":25.1},
{"g":"60-69","v":25.1},{"g":"60-69","v":25.0},{"g":"60-69","v":25.0},{"g":"60-69","v":24.9},{"g":"60-69","v":24.9},{"g":"60-69","v":24.8},{"g":"60-69","v":24.8},{"g":"60-69","v":24.7},{"g":"60-69","v":24.7},{"g":"60-69","v":24.6},{"g":"60-69","v":24.6},{"g":"60-69","v":24.5},{"g":"60-69","v":24.5},{"g":"60-69","v":24.4},{"g":"60-69","v":24.4},{"g":"60-69","v":24.3},{"g":"60-69","v":24.3},{"g":"60-69","v":24.2},{"g":"60-69","v":24.1},{"g":"60-69","v":24.0},{"g":"60-69","v":23.9},{"g":"60-69","v":23.8},{"g":"60-69","v":23.7},{"g":"60-69","v":23.6},{"g":"60-69","v":23.5},
{"g":"60-69","v":23.4},{"g":"60-69","v":23.3},{"g":"60-69","v":23.2},{"g":"60-69","v":23.1},{"g":"60-69","v":23.0},{"g":"60-69","v":22.9},{"g":"60-69","v":22.8},{"g":"60-69","v":22.7},{"g":"60-69","v":22.6},{"g":"60-69","v":22.5},{"g":"60-69","v":22.4},{"g":"60-69","v":22.3},{"g":"60-69","v":22.2},{"g":"60-69","v":22.1},{"g":"60-69","v":22.0},{"g":"60-69","v":21.8},{"g":"60-69","v":21.6},{"g":"60-69","v":21.4},{"g":"60-69","v":21.2},{"g":"60-69","v":21.0},{"g":"60-69","v":20.8},{"g":"60-69","v":20.6},{"g":"60-69","v":20.4},{"g":"60-69","v":20.0},{"g":"60-69","v":19.7},
{"g":"70-79","v":32.7},{"g":"70-79","v":32.0},{"g":"70-79","v":31.2},{"g":"70-79","v":30.5},{"g":"70-79","v":30.2},{"g":"70-79","v":29.8},{"g":"70-79","v":29.0},{"g":"70-79","v":28.6},{"g":"70-79","v":28.3},{"g":"70-79","v":28.0},{"g":"70-79","v":27.8},{"g":"70-79","v":27.6},{"g":"70-79","v":27.4},{"g":"70-79","v":27.2},{"g":"70-79","v":27.0},{"g":"70-79","v":26.9},{"g":"70-79","v":26.8},{"g":"70-79","v":26.7},{"g":"70-79","v":26.6},{"g":"70-79","v":26.5},{"g":"70-79","v":26.4},
{"g":"70-79","v":26.3},{"g":"70-79","v":26.3},{"g":"70-79","v":26.2},{"g":"70-79","v":26.2},{"g":"70-79","v":26.1},{"g":"70-79","v":26.1},{"g":"70-79","v":26.0},{"g":"70-79","v":26.0},{"g":"70-79","v":25.9},{"g":"70-79","v":25.9},{"g":"70-79","v":25.9},{"g":"70-79","v":25.8},{"g":"70-79","v":25.8},{"g":"70-79","v":25.8},{"g":"70-79","v":25.7},{"g":"70-79","v":25.7},{"g":"70-79","v":25.7},{"g":"70-79","v":25.6},{"g":"70-79","v":25.6},{"g":"70-79","v":25.6},{"g":"70-79","v":25.6},{"g":"70-79","v":25.6},
{"g":"70-79","v":25.5},{"g":"70-79","v":25.5},{"g":"70-79","v":25.4},{"g":"70-79","v":25.4},{"g":"70-79","v":25.3},{"g":"70-79","v":25.3},{"g":"70-79","v":25.2},{"g":"70-79","v":25.1},{"g":"70-79","v":25.0},{"g":"70-79","v":24.9},{"g":"70-79","v":24.8},{"g":"70-79","v":24.7},{"g":"70-79","v":24.6},{"g":"70-79","v":24.5},{"g":"70-79","v":24.4},{"g":"70-79","v":24.3},{"g":"70-79","v":24.2},{"g":"70-79","v":24.1},{"g":"70-79","v":24.0},{"g":"70-79","v":23.9},{"g":"70-79","v":23.8},
{"g":"70-79","v":23.6},{"g":"70-79","v":23.4},{"g":"70-79","v":23.2},{"g":"70-79","v":23.0},{"g":"70-79","v":22.8},{"g":"70-79","v":22.6},{"g":"70-79","v":22.4},{"g":"70-79","v":22.2},{"g":"70-79","v":22.0},{"g":"70-79","v":21.8},{"g":"70-79","v":21.6},{"g":"70-79","v":21.4},{"g":"70-79","v":21.2},{"g":"70-79","v":21.0},{"g":"70-79","v":20.8},{"g":"70-79","v":20.6},{"g":"70-79","v":20.4},{"g":"70-79","v":20.2},{"g":"70-79","v":21.9},{"g":"70-79","v":22.5},{"g":"70-79","v":23.1},
{"g":"≥80","v":30.7},{"g":"≥80","v":29.8},{"g":"≥80","v":29.4},{"g":"≥80","v":29.0},{"g":"≥80","v":28.6},{"g":"≥80","v":28.3},{"g":"≥80","v":28.0},{"g":"≥80","v":27.7},{"g":"≥80","v":27.4},{"g":"≥80","v":27.1},{"g":"≥80","v":26.9},{"g":"≥80","v":26.7},{"g":"≥80","v":26.5},{"g":"≥80","v":26.4},{"g":"≥80","v":26.3},{"g":"≥80","v":26.2},
{"g":"≥80","v":26.1},{"g":"≥80","v":26.0},{"g":"≥80","v":25.9},{"g":"≥80","v":25.8},{"g":"≥80","v":25.7},{"g":"≥80","v":25.6},{"g":"≥80","v":25.6},{"g":"≥80","v":25.5},{"g":"≥80","v":25.5},{"g":"≥80","v":25.4},{"g":"≥80","v":25.4},{"g":"≥80","v":25.3},{"g":"≥80","v":25.3},{"g":"≥80","v":25.2},{"g":"≥80","v":25.2},{"g":"≥80","v":25.2},{"g":"≥80","v":25.1},
{"g":"≥80","v":25.0},{"g":"≥80","v":24.9},{"g":"≥80","v":24.8},{"g":"≥80","v":24.7},{"g":"≥80","v":24.6},{"g":"≥80","v":24.5},{"g":"≥80","v":24.4},{"g":"≥80","v":24.3},{"g":"≥80","v":24.2},{"g":"≥80","v":24.0},{"g":"≥80","v":23.8},{"g":"≥80","v":23.6},{"g":"≥80","v":23.4},{"g":"≥80","v":23.2},{"g":"≥80","v":23.0},{"g":"≥80","v":22.8},
{"g":"≥80","v":22.6},{"g":"≥80","v":22.4},{"g":"≥80","v":22.2},{"g":"≥80","v":22.1},{"g":"≥80","v":22.0},{"g":"≥80","v":21.9},{"g":"≥80","v":21.8},{"g":"≥80","v":21.7},{"g":"≥80","v":21.6},{"g":"≥80","v":23.9},{"g":"≥80","v":24.1},{"g":"≥80","v":23.7},{"g":"≥80","v":23.5},{"g":"≥80","v":22.9},{"g":"≥80","v":22.7},{"g":"≥80","v":22.3}
],
"mE":[{"g":"<18","v":22.84},{"g":"18-29","v":25.92},{"g":"30-39","v":28.31},{"g":"40-49","v":29.21},{"g":"50-59","v":27.73},{"g":"60-69","v":26.52},{"g":"70-79","v":26.32},{"g":"≥80","v":23.12}],
"mN":[{"g":"<18","v":23.43},{"g":"18-29","v":28.21},{"g":"30-39","v":29.54},{"g":"40-49","v":30.88},{"g":"50-59","v":29.07},{"g":"60-69","v":27.71},{"g":"70-79","v":27.53},{"g":"≥80","v":23.78}],
"mR":[{"g":"<18","v":25.0},{"g":"18-29","v":26.0},{"g":"30-39","v":25.65},{"g":"40-49","v":25.35},{"g":"50-59","v":25.85},{"g":"60-69","v":25.2},{"g":"70-79","v":25.6},{"g":"≥80","v":25.15}],
"T":[
{"c":"Assay","r":"h","t":"Assay"},{"c":"Assay","r":"e2","t":"E"},{"c":"Assay","r":"n2","t":"N2"},
{"c":"Age","r":"h","t":"Age (y)"},{"c":"Age","r":"e1","t":"Median Ct"},{"c":"Age","r":"e2","t":"IQR"},{"c":"Age","r":"e3","t":"p value*"},{"c":"Age","r":"n1","t":"Median Ct"},{"c":"Age","r":"n2","t":"IQR"},{"c":"Age","r":"n3","t":"p value*"},
{"c":"<18","r":"h","t":"<18"},{"c":"<18","r":"e1","t":"22.84"},{"c":"<18","r":"e2","t":"18.49-30.30"},{"c":"<18","r":"e3","t":"NA"},{"c":"<18","r":"n1","t":"23.43"},{"c":"<18","r":"n2","t":"18.53-32.15"},{"c":"<18","r":"n3","t":"NA"},
{"c":"18-29","r":"h","t":"18-29"},{"c":"18-29","r":"e1","t":"25.92"},{"c":"18-29","r":"e2","t":"19.51-29.45"},{"c":"18-29","r":"e3","t":"0.137"},{"c":"18-29","r":"n1","t":"28.21"},{"c":"18-29","r":"n2","t":"22.29-36.79"},{"c":"18-29","r":"n3","t":"0.011"},
{"c":"30-39","r":"h","t":"30-39"},{"c":"30-39","r":"e1","t":"28.31"},{"c":"30-39","r":"e2","t":"21.77-32.62"},{"c":"30-39","r":"e3","t":"<0.001"},{"c":"30-39","r":"n1","t":"29.54"},{"c":"30-39","r":"n2","t":"22.67-34.91"},{"c":"30-39","r":"n3","t":"<0.001"},
{"c":"40-49","r":"h","t":"40-49"},{"c":"40-49","r":"e1","t":"29.21"},{"c":"40-49","r":"e2","t":"24.31-32.11"},{"c":"40-49","r":"e3","t":"< 0.001"},{"c":"40-49","r":"n1","t":"30.88"},{"c":"40-49","r":"n2","t":"25.64-35.18"},{"c":"40-49","r":"n3","t":"<0.001"},
{"c":"50-59","r":"h","t":"50-59"},{"c":"50-59","r":"e1","t":"27.73"},{"c":"50-59","r":"e2","t":"23.01-31.61"},{"c":"50-59","r":"e3","t":"<0.001"},{"c":"50-59","r":"n1","t":"29.07"},{"c":"50-59","r":"n2","t":"24.34-32.94"},{"c":"50-59","r":"n3","t":"<0.001"},
{"c":"60-69","r":"h","t":"60-69"},{"c":"60-69","r":"e1","t":"26.52"},{"c":"60-69","r":"e2","t":"22.62-29.46"},{"c":"60-69","r":"e3","t":"<0.001"},{"c":"60-69","r":"n1","t":"27.71"},{"c":"60-69","r":"n2","t":"23.75-31.52"},{"c":"60-69","r":"n3","t":"<0.001"},
{"c":"70-79","r":"h","t":"70-79"},{"c":"70-79","r":"e1","t":"26.32"},{"c":"70-79","r":"e2","t":"21.00-30.25"},{"c":"70-79","r":"e3","t":"<0.001"},{"c":"70-79","r":"n1","t":"27.53"},{"c":"70-79","r":"n2","t":"22.20-32.25"},{"c":"70-79","r":"n3","t":"<0.001"},
{"c":"≥80","r":"h","t":"≥80"},{"c":"≥80","r":"e1","t":"23.12"},{"c":"≥80","r":"e2","t":"18.51-29.29"},{"c":"≥80","r":"n1","t":"23.78"},{"c":"≥80","r":"n2","t":"19.54-29.18"}
],
"L":[{"r":"h","k":"top"},{"r":"h","k":"bot"},{"r":"e3","k":"bot"},{"r":"n3","k":"bot"}]
},
"concat":[
{"hconcat":[
 {"width":1,"height":1,"data":{"values":[{}]},"mark":{"type":"rule","opacity":0},"encoding":{}},
 {"hconcat":[
 {"hconcat":[
  {"title":{"text":"E assay","fontSize":21,"anchor":"middle","dx":28,"offset":14},
   "vconcat":[{"title":{"text":"Age group","orient":"bottom","anchor":"middle","fontSize":17,"dx":28,"offset":18},
    "hconcat":[
     {"width":52,"height":228,"layer":[
      {"data":{"name":"E"},"transform":[{"filter":"datum.g === '<18'"},{"calculate":"floor(datum.v / 0.7)","as":"b"},{"window":[{"op":"row_number","as":"r"}],"groupby":["g","b"],"sort":[{"field":"v"}]},{"joinaggregate":[{"op":"count","as":"n"}],"groupby":["g","b"]},{"calculate":"((datum.r - 1) % 5) - (min(datum.n, 5) - 1) / 2","as":"off"}],
       "mark":{"type":"circle","size":25,"color":"#a6a6a6","opacity":1},
       "encoding":{"x":{"field":"g","type":"nominal","scale":{"type":"band","domain":["<18"],"paddingInner":0,"paddingOuter":0},"axis":{"title":null,"labelAngle":-45,"labelFontSize":16,"tickSize":7,"tickWidth":2,"domainWidth":2,"labelPadding":3}},
        "xOffset":{"field":"off","type":"quantitative","scale":{"domain":[-5.2,5.2]}},
        "y":{"field":"v","type":"quantitative","scale":{"domain":[10,40],"nice":false,"zero":false},"axis":{"values":[10,20,30,40],"title":"Ct value","titleFontSize":18,"titlePadding":12,"labelFontSize":16,"tickSize":7,"tickWidth":2,"domainWidth":2,"labelPadding":3}}}},
      {"data":{"name":"mE"},"transform":[{"filter":"datum.g === '<18'"}],"mark":{"type":"tick","size":26,"thickness":3.5,"color":"black"},
       "encoding":{"x":{"field":"g","type":"nominal"},"y":{"field":"v","type":"quantitative"}}}
     ]},
     {"width":288,"height":228,"layer":[
      {"data":{"name":"E"},"transform":[{"filter":"datum.g !== '<18'"},{"calculate":"floor(datum.v / 0.7)","as":"b"},{"window":[{"op":"row_number","as":"r"}],"groupby":["g","b"],"sort":[{"field":"v"}]},{"joinaggregate":[{"op":"count","as":"n"}],"groupby":["g","b"]},{"calculate":"((datum.r - 1) % 5) - (min(datum.n, 5) - 1) / 2","as":"off"}],
       "mark":{"type":"circle","size":25,"color":"#a6a6a6","opacity":1},
       "encoding":{"x":{"field":"g","type":"nominal","scale":{"type":"band","domain":["18-29","30-39","40-49","50-59","60-69","70-79","≥80"],"paddingInner":0,"paddingOuter":0.2},"axis":{"title":null,"labelAngle":-45,"labelFontSize":16,"tickSize":7,"tickWidth":2,"domainWidth":2,"labelPadding":3}},
        "xOffset":{"field":"off","type":"quantitative","scale":{"domain":[-3.89,3.89]}},
        "y":{"field":"v","type":"quantitative","scale":{"domain":[10,40],"nice":false,"zero":false},"axis":{"labels":false,"ticks":false,"title":null,"domainDash":[4,3],"domainWidth":1.5,"minExtent":0}}}},
      {"data":{"name":"mE"},"transform":[{"filter":"datum.g !== '<18'"}],"mark":{"type":"tick","size":26,"thickness":3.5},
       "encoding":{"x":{"field":"g","type":"nominal"},"y":{"field":"v","type":"quantitative"},"color":{"condition":{"test":"datum.g === '≥80'","value":"#e0301e"},"value":"black"}}}
     ]}
    ],"spacing":0}]},
  {"title":{"text":"N2 assay","fontSize":21,"anchor":"middle","dx":28,"offset":14},
   "vconcat":[{"title":{"text":"Age group","orient":"bottom","anchor":"middle","fontSize":17,"dx":28,"offset":18},
    "hconcat":[
     {"width":52,"height":228,"layer":[
      {"data":{"name":"N"},"transform":[{"filter":"datum.g === '<18'"},{"calculate":"floor(datum.v / 0.7)","as":"b"},{"window":[{"op":"row_number","as":"r"}],"groupby":["g","b"],"sort":[{"field":"v"}]},{"joinaggregate":[{"op":"count","as":"n"}],"groupby":["g","b"]},{"calculate":"((datum.r - 1) % 5) - (min(datum.n, 5) - 1) / 2","as":"off"}],
       "mark":{"type":"circle","size":25,"color":"#a6a6a6","opacity":1},
       "encoding":{"x":{"field":"g","type":"nominal","scale":{"type":"band","domain":["<18"],"paddingInner":0,"paddingOuter":0},"axis":{"title":null,"labelAngle":-45,"labelFontSize":16,"tickSize":7,"tickWidth":2,"domainWidth":2,"labelPadding":3}},
        "xOffset":{"field":"off","type":"quantitative","scale":{"domain":[-5.2,5.2]}},
        "y":{"field":"v","type":"quantitative","scale":{"domain":[10,40],"nice":false,"zero":false},"axis":{"values":[10,20,30,40],"title":"Ct value","titleFontSize":18,"titlePadding":12,"labelFontSize":16,"tickSize":7,"tickWidth":2,"domainWidth":2,"labelPadding":3}}}},
      {"data":{"name":"mN"},"transform":[{"filter":"datum.g === '<18'"}],"mark":{"type":"tick","size":26,"thickness":3.5,"color":"black"},
       "encoding":{"x":{"field":"g","type":"nominal"},"y":{"field":"v","type":"quantitative"}}}
     ]},
     {"width":290,"height":228,"layer":[
      {"data":{"name":"N"},"transform":[{"filter":"datum.g !== '<18'"},{"calculate":"floor(datum.v / 0.7)","as":"b"},{"window":[{"op":"row_number","as":"r"}],"groupby":["g","b"],"sort":[{"field":"v"}]},{"joinaggregate":[{"op":"count","as":"n"}],"groupby":["g","b"]},{"calculate":"((datum.r - 1) % 5) - (min(datum.n, 5) - 1) / 2","as":"off"}],
       "mark":{"type":"circle","size":25,"color":"#a6a6a6","opacity":1},
       "encoding":{"x":{"field":"g","type":"nominal","scale":{"type":"band","domain":["18-29","30-39","40-49","50-59","60-69","70-79","≥80"],"paddingInner":0,"paddingOuter":0.2},"axis":{"title":null,"labelAngle":-45,"labelFontSize":16,"tickSize":7,"tickWidth":2,"domainWidth":2,"labelPadding":3}},
        "xOffset":{"field":"off","type":"quantitative","scale":{"domain":[-3.92,3.92]}},
        "y":{"field":"v","type":"quantitative","scale":{"domain":[10,40],"nice":false,"zero":false},"axis":{"labels":false,"ticks":false,"title":null,"domainDash":[4,3],"domainWidth":1.5,"minExtent":0}}}},
      {"data":{"name":"mN"},"transform":[{"filter":"datum.g !== '<18'"}],"mark":{"type":"tick","size":26,"thickness":3.5},
       "encoding":{"x":{"field":"g","type":"nominal"},"y":{"field":"v","type":"quantitative"},"color":{"condition":{"test":"datum.g === '≥80'","value":"#e0301e"},"value":"black"}}}
     ]}
    ],"spacing":0}]}
 ],"spacing":51},
 {"title":{"text":"RP assay","fontSize":21,"anchor":"middle","dx":28,"offset":14},
  "vconcat":[{"title":{"text":"Age group","orient":"bottom","anchor":"middle","fontSize":17,"dx":28,"offset":18},
   "hconcat":[
    {"width":342,"height":228,"layer":[
     {"data":{"name":"R"},"transform":[{"calculate":"floor(datum.v / 0.7)","as":"b"},{"window":[{"op":"row_number","as":"r"}],"groupby":["g","b"],"sort":[{"field":"v"}]},{"joinaggregate":[{"op":"count","as":"n"}],"groupby":["g","b"]},{"calculate":"((datum.r - 1) % 5) - (min(datum.n, 5) - 1) / 2","as":"off"}],
      "mark":{"type":"circle","size":25,"color":"#a6a6a6","opacity":1},
      "encoding":{"x":{"field":"g","type":"nominal","scale":{"type":"band","domain":["<18","18-29","30-39","40-49","50-59","60-69","70-79","≥80"],"paddingInner":0,"paddingOuter":0.17},"axis":{"title":null,"labelAngle":-45,"labelFontSize":16,"tickSize":7,"tickWidth":2,"domainWidth":2,"labelPadding":3}},
       "xOffset":{"field":"off","type":"quantitative","scale":{"domain":[-4.1,4.1]}},
       "y":{"field":"v","type":"quantitative","scale":{"domain":[10,40],"nice":false,"zero":false},"axis":{"values":[10,20,30,40],"title":"Ct value","titleFontSize":18,"titlePadding":12,"labelFontSize":16,"tickSize":7,"tickWidth":2,"domainWidth":2,"labelPadding":3}}}},
     {"data":{"name":"mR"},"mark":{"type":"tick","size":26,"thickness":3.5,"color":"black"},
      "encoding":{"x":{"field":"g","type":"nominal"},"y":{"field":"v","type":"quantitative"}}}
    ]}
   ],"spacing":0}]}
 ],"spacing":32}
],"spacing":-8},
{"title":{"text":"*Relative to age group of ≥80; NA: not applicable","orient":"bottom","anchor":"start","fontSize":17,"offset":5,"dx":7},
 "hconcat":[
  {"width":108,"height":143,"layer":[
   {"data":{"name":"T"},"transform":[{"filter":"datum.c === 'Assay'"}],"mark":{"type":"text","fontSize":17,"fontWeight":"bold","color":"black"},
    "encoding":{"x":{"field":"c","type":"nominal","scale":{"type":"band","paddingInner":0,"paddingOuter":0},"axis":null},
     "y":{"field":"r","type":"nominal","scale":{"type":"band","domain":["h","e1","e2","e3","n1","n2","n3"],"paddingInner":0,"paddingOuter":0},"axis":{"domain":false,"labels":false,"ticks":false,"title":null,"minExtent":7,"maxExtent":7}},
     "text":{"field":"t"}}},
   {"data":{"name":"L"},"transform":[{"filter":"datum.k === 'top'"}],"mark":{"type":"rule","strokeWidth":1.5,"color":"black"},"encoding":{"y":{"field":"r","type":"nominal","bandPosition":0}}},
   {"data":{"name":"L"},"transform":[{"filter":"datum.k === 'bot'"}],"mark":{"type":"rule","strokeWidth":1.5,"color":"black"},"encoding":{"y":{"field":"r","type":"nominal","bandPosition":1}}}
  ]},
  {"width":110,"height":143,"layer":[
   {"data":{"name":"T"},"transform":[{"filter":"datum.c === 'Age'"}],"mark":{"type":"text","fontSize":17,"fontWeight":"bold","color":"black"},
    "encoding":{"x":{"field":"c","type":"nominal","scale":{"type":"band","paddingInner":0,"paddingOuter":0},"axis":null},
     "y":{"field":"r","type":"nominal","scale":{"type":"band","domain":["h","e1","e2","e3","n1","n2","n3"],"paddingInner":0,"paddingOuter":0},"axis":{"domain":true,"domainWidth":1.5,"labels":false,"ticks":false,"title":null,"minExtent":0}},
     "text":{"field":"t"}}},
   {"data":{"name":"L"},"transform":[{"filter":"datum.k === 'top'"}],"mark":{"type":"rule","strokeWidth":1.5,"color":"black"},"encoding":{"y":{"field":"r","type":"nominal","bandPosition":0}}},
   {"data":{"name":"L"},"transform":[{"filter":"datum.k === 'bot'"}],"mark":{"type":"rule","strokeWidth":1.5,"color":"black"},"encoding":{"y":{"field":"r","type":"nominal","bandPosition":1}}}
  ]},
  {"width":1040,"height":143,"layer":[
   {"data":{"name":"T"},"transform":[{"filter":"datum.c !== 'Assay' && datum.c !== 'Age'"}],"mark":{"type":"text","fontSize":17,"fontWeight":"bold","color":"black"},
    "encoding":{"x":{"field":"c","type":"nominal","scale":{"type":"band","domain":["<18","18-29","30-39","40-49","50-59","60-69","70-79","≥80"],"paddingInner":0,"paddingOuter":0},"axis":null},
     "y":{"field":"r","type":"nominal","scale":{"type":"band","domain":["h","e1","e2","e3","n1","n2","n3"],"paddingInner":0,"paddingOuter":0},"axis":{"domain":true,"domainWidth":1.5,"labels":false,"ticks":false,"title":null,"minExtent":0}},
     "text":{"field":"t"}}},
   {"data":{"name":"L"},"transform":[{"filter":"datum.k === 'top'"}],"mark":{"type":"rule","strokeWidth":1.5,"color":"black"},"encoding":{"y":{"field":"r","type":"nominal","bandPosition":0}}},
   {"data":{"name":"L"},"transform":[{"filter":"datum.k === 'bot'"}],"mark":{"type":"rule","strokeWidth":1.5,"color":"black"},"encoding":{"y":{"field":"r","type":"nominal","bandPosition":1}}}
  ]}
 ],"spacing":0}
],
"columns":1,"spacing":12,"align":"none",
"config":{"font":"Liberation Sans","view":{"stroke":null},
 "axis":{"labelFontWeight":"bold","titleFontWeight":"bold","labelColor":"black","titleColor":"black","domainColor":"black","tickColor":"black","grid":false},
 "title":{"fontWeight":"bold","color":"black"}}
}
